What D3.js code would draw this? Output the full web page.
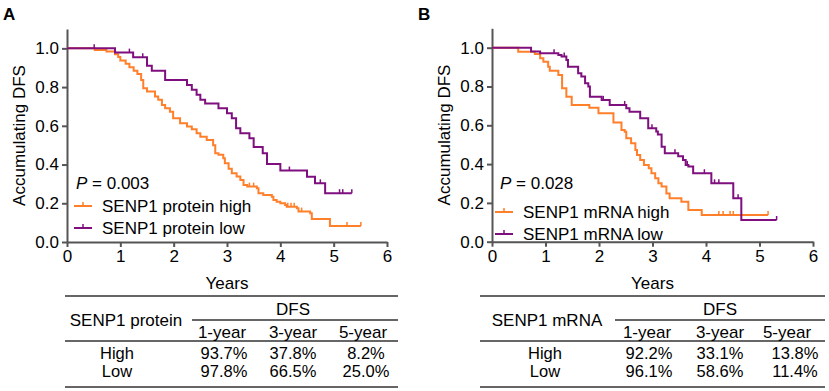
<!DOCTYPE html>
<html>
<head>
<meta charset="utf-8">
<script src="https://cdn.jsdelivr.net/npm/d3@7"></script>
<style>
  html, body { margin: 0; padding: 0; background: #fff; }
  svg { display: block; font-family: "Liberation Sans", Arial, Helvetica, sans-serif; }
  .axis path, .axis line { stroke: #555; stroke-width: 2px; }
  .axis text { fill: #000; font-size: 17px; }
</style>
</head>
<body>
<svg id="chart" width="829" height="391"></svg>
<script>
'use strict';

// ---- data ----
const yTicks = [0, 0.2, 0.4, 0.6, 0.8, 1.0];
const xTicks = [0, 1, 2, 3, 4, 5, 6];

// Panel A – SENP1 protein: [time (years), survival after step]
const proteinHighSteps = [[0.52,.992],[0.74,.984],[0.90,.970],[0.96,.955],[1.00,.937],[1.10,.920],[1.17,.903],[1.25,.885],[1.32,.868],[1.39,.837],[1.43,.794],[1.50,.777],[1.65,.751],[1.71,.734],[1.78,.708],[1.84,.691],[1.93,.673],[1.99,.639],[2.12,.613],[2.25,.596],[2.34,.582],[2.43,.562],[2.50,.544],[2.62,.527],[2.74,.500],[2.78,.458],[2.84,.450],[2.93,.432],[2.96,.407],[3.03,.378],[3.09,.355],[3.18,.338],[3.25,.320],[3.31,.295],[3.38,.286],[3.56,.277],[3.59,.252],[3.68,.243],[3.84,.234],[3.87,.217],[3.93,.208],[4.00,.200],[4.09,.191],[4.12,.182],[4.31,.174],[4.34,.157],[4.56,.148],[4.59,.119],[4.93,.082]];
const proteinHighEnd = 5.51;
const proteinHighCensor = [3.42, 3.50, 4.14, 4.20, 4.26, 4.40, 5.25, 5.51];

const proteinLowSteps = [[0.90,.978],[1.24,.954],[1.50,.910],[1.59,.884],[1.84,.837],[2.25,.811],[2.34,.786],[2.43,.760],[2.50,.734],[2.59,.715],[2.84,.691],[3.00,.665],[3.09,.639],[3.17,.587],[3.25,.562],[3.42,.536],[3.50,.490],[3.67,.458],[3.75,.403],[4.00,.369],[4.50,.337],[4.65,.303],[4.84,.252]];
const proteinLowEnd = 5.34;
const proteinLowCensor = [0.51, 1.17, 1.42, 4.17, 4.75, 5.11, 5.17, 5.34];

// Panel B – SENP1 mRNA
const mrnaHighSteps = [[0.49,.979],[0.80,.967],[0.90,.945],[0.96,.928],[1.05,.902],[1.08,.881],[1.24,.859],[1.31,.791],[1.39,.747],[1.49,.705],[1.82,.690],[1.99,.662],[2.27,.615],[2.42,.576],[2.48,.567],[2.51,.533],[2.60,.507],[2.68,.473],[2.71,.447],[2.77,.421],[2.84,.395],[2.93,.378],[2.98,.353],[3.05,.327],[3.11,.301],[3.17,.284],[3.26,.249],[3.32,.224],[3.54,.206],[3.67,.163],[3.92,.138]];
const mrnaHighEnd = 5.16;
const mrnaHighCensor = [4.24, 4.32, 4.45, 4.51, 5.16];

const mrnaLowSteps = [[0.73,.981],[0.90,.971],[1.24,.963],[1.30,.955],[1.39,.937],[1.42,.902],[1.61,.868],[1.67,.851],[1.74,.817],[1.80,.800],[1.83,.747],[2.05,.731],[2.20,.705],[2.51,.688],[2.57,.670],[2.77,.636],[2.92,.585],[3.07,.568],[3.10,.552],[3.17,.490],[3.23,.456],[3.48,.440],[3.57,.421],[3.62,.396],[3.67,.387],[3.76,.353],[4.10,.301],[4.51,.224],[4.66,.112]];
const mrnaLowEnd = 5.32;
const mrnaLowCensor = [1.16, 1.35, 2.08, 2.48, 2.99, 3.42, 3.65, 3.97, 4.16, 4.24, 4.60, 5.32];

// Tables
const tableCols = ['1-year', '3-year', '5-year'];
const tableRows = ['High', 'Low'];
const proteinTable = [['93.7%', '37.8%', '8.2%'], ['97.8%', '66.5%', '25.0%']];
const mrnaTable = [['92.2%', '33.1%', '13.8%'], ['96.1%', '58.6%', '11.4%']];

const COLORS = { high: '#ff7f2a', low: '#7f0f7e' };

const svg = d3.select('#chart');

function survAt(steps, t) {
  let s = 1;
  for (const [ts, v] of steps) { if (ts <= t + 1e-9) s = v; }
  return s;
}

function drawPanel(p) {
  const g = svg.append('g');
  const x = d3.scaleLinear().domain([0, 6]).range(p.xRange);
  const y = d3.scaleLinear().domain([0, 1.1]).range(p.yRange);

  // panel letter
  g.append('text').attr('x', p.letterX).attr('y', 20)
    .attr('font-size', 17).attr('font-weight', 'bold').text(p.letter);

  // axes
  g.append('g').attr('class', 'axis')
    .attr('transform', `translate(${p.xRange[0]},0)`)
    .call(d3.axisLeft(y).tickValues(yTicks).tickFormat(d3.format('.1f')).tickSize(5).tickSizeOuter(0).tickPadding(3));
  g.append('g').attr('class', 'axis')
    .attr('transform', `translate(0,${p.yRange[0]})`)
    .call(d3.axisBottom(x).tickValues(xTicks).tickFormat(d3.format('d')).tickSize(5).tickSizeOuter(0).tickPadding(3));

  // axis titles
  g.append('text')
    .attr('transform', `translate(${p.xRange[0] - 46},${y(0.55)}) rotate(-90)`)
    .attr('text-anchor', 'middle').attr('dominant-baseline', 'middle')
    .attr('font-size', 17).text('Accumulating DFS');
  g.append('text')
    .attr('x', x(3)).attr('y', 289)
    .attr('text-anchor', 'middle').attr('font-size', 17).text('Years');

  // curves
  const line = d3.line().x(d => x(d[0])).y(d => y(d[1])).curve(d3.curveStepAfter);
  p.series.forEach(s => {
    const pts = [[0, 1], ...s.steps, [s.end, s.steps[s.steps.length - 1][1]]];
    g.append('path').datum(pts)
      .attr('d', line).attr('fill', 'none')
      .attr('stroke', s.color).attr('stroke-width', 2);
    g.selectAll(null).data(s.censor).enter().append('line')
      .attr('x1', t => x(t)).attr('x2', t => x(t))
      .attr('y1', t => y(survAt(s.steps, t)))
      .attr('y2', t => y(survAt(s.steps, t)) - 4)
      .attr('stroke', s.color).attr('stroke-width', 1.5);
  });

  // P value + legend
  const lx = p.legendX;
  const pt = g.append('text').attr('x', p.pX).attr('y', 189).attr('font-size', 17);
  pt.append('tspan').attr('font-style', 'italic').text('P');
  pt.append('tspan').text(' = ' + p.pValue);
  p.series.forEach((s, i) => {
    const ly = p.legendY + i * 22;
    g.append('line').attr('x1', lx).attr('x2', lx + 18).attr('y1', ly).attr('y2', ly)
      .attr('stroke', s.color).attr('stroke-width', 2);
    g.append('line').attr('x1', lx + 9).attr('x2', lx + 9).attr('y1', ly).attr('y2', ly - 4)
      .attr('stroke', s.color).attr('stroke-width', 1.5);
    g.append('text').attr('x', lx + 28).attr('y', ly).attr('dominant-baseline', 'central')
      .attr('font-size', 17).text(s.label);
  });

  // table
  const t = p.table;
  const rule = (x1, x2, yy) => g.append('line').attr('x1', x1).attr('x2', x2)
    .attr('y1', yy).attr('y2', yy).attr('stroke', '#333').attr('stroke-width', 1.5);
  rule(t.x0, t.x1, 296);
  rule(t.dfsX0, t.x1, 320);
  rule(t.x0, t.x1, 341);
  rule(t.x0, t.x1, 387);
  const txt = (xx, yy, s, fs) => g.append('text').attr('x', xx).attr('y', yy)
    .attr('text-anchor', 'middle').attr('dominant-baseline', 'central')
    .attr('font-size', fs || 17).text(s);
  txt(t.colX[1], 309, 'DFS');
  txt(t.labelX, 320, t.title);
  tableCols.forEach((c, i) => txt(t.colX[i], 332, c));
  tableRows.forEach((r, j) => {
    const yy = 353 + j * 18;
    txt(t.rowX, yy, r, 16.5);
    t.values[j].forEach((v, i) => txt(t.valX[i], yy, v, 16.5));
  });
}

drawPanel({
  letter: 'A', letterX: 3,
  xRange: [67, 387], yRange: [242, 29],
  pValue: '0.003', pX: 76, legendX: 74, legendY: 206,
  series: [
    { label: 'SENP1 protein high', color: COLORS.high, steps: proteinHighSteps, end: proteinHighEnd, censor: proteinHighCensor },
    { label: 'SENP1 protein low', color: COLORS.low, steps: proteinLowSteps, end: proteinLowEnd, censor: proteinLowCensor }
  ],
  table: {
    x0: 65, x1: 398, dfsX0: 192, title: 'SENP1 protein', labelX: 126, rowX: 117,
    colX: [222, 293, 363], valX: [224, 293, 366], values: proteinTable
  }
});

drawPanel({
  letter: 'B', letterX: 418,
  xRange: [492, 813], yRange: [241.7, 28.3],
  pValue: '0.028', pX: 500, legendX: 495, legendY: 212,
  series: [
    { label: 'SENP1 mRNA high', color: COLORS.high, steps: mrnaHighSteps, end: mrnaHighEnd, censor: mrnaHighCensor },
    { label: 'SENP1 mRNA low', color: COLORS.low, steps: mrnaLowSteps, end: mrnaLowEnd, censor: mrnaLowCensor }
  ],
  table: {
    x0: 480, x1: 825, dfsX0: 615, title: 'SENP1 mRNA', labelX: 547, rowX: 545,
    colX: [647, 720, 787], valX: [649, 720, 795], values: mrnaTable
  }
});
</script>
</body>
</html>
